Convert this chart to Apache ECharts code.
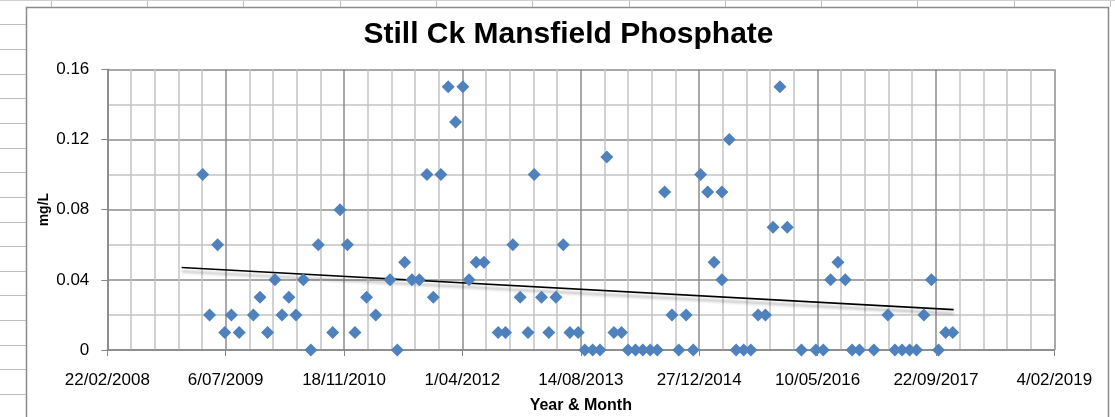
<!DOCTYPE html>
<html><head><meta charset="utf-8">
<script src="https://cdn.jsdelivr.net/npm/echarts@6/dist/echarts.min.js"></script>
<style>html,body{margin:0;padding:0;background:#fff}#c{width:1115px;height:417px}</style>
</head><body><div id="c"></div>
<script>
// ---- data ----
const sampleDates = [
 '2009-03-31','2009-04-29','2009-06-02','2009-07-02','2009-07-30','2009-09-01','2009-10-31','2009-11-28','2009-12-30',
 '2010-01-30','2010-03-01','2010-03-30','2010-04-29','2010-05-30','2010-07-01','2010-08-01','2010-10-01','2010-11-01','2010-12-02',
 '2011-01-03','2011-02-21','2011-04-01','2011-05-31','2011-07-01','2011-08-01','2011-09-01','2011-10-02','2011-11-03','2011-11-30',
 '2012-01-01','2012-02-01','2012-03-03','2012-04-03','2012-04-29','2012-05-29','2012-07-01','2012-08-30','2012-09-30','2012-10-31','2012-12-01',
 '2013-01-03','2013-01-29','2013-03-01','2013-04-01','2013-05-01','2013-06-01','2013-06-29','2013-08-03','2013-08-31','2013-10-03','2013-11-03','2013-12-02',
 '2014-01-01','2014-02-02','2014-03-02','2014-04-02','2014-05-03','2014-06-03','2014-07-03','2014-08-03','2014-09-03','2014-10-02','2014-11-02','2014-12-02',
 '2015-01-02','2015-02-01','2015-02-28','2015-04-02','2015-04-02','2015-05-03','2015-06-01','2015-07-03','2015-08-02','2015-09-02','2015-10-03','2015-11-04','2015-12-03',
 '2016-01-03','2016-03-03','2016-05-03','2016-06-03','2016-07-04','2016-08-04','2016-09-04','2016-10-03','2016-11-03',
 '2017-01-03','2017-03-03','2017-04-02','2017-05-02','2017-06-03','2017-07-02','2017-08-02','2017-09-03','2017-10-03','2017-11-02','2017-12-02'
];
const phosphate = [
 0.10,0.02,0.06,0.01,0.02,0.01,0.02,0.03,0.01,
 0.04,0.02,0.03,0.02,0.04,0,0.06,0.01,0.08,0.06,
 0.01,0.03,0.02,0.04,0,0.05,0.04,0.04,0.10,0.03,
 0.10,0.15,0.13,0.15,0.04,0.05,0.05,0.01,0.01,0.06,0.03,
 0.01,0.10,0.03,0.01,0.03,0.06,0.01,0.01,0,0,0,0.11,
 0.01,0.01,0,0,0,0,0,0.09,0.02,0,0.02,0,
 0.10,0.09,0.05,0.09,0.04,0.12,0,0,0,0.02,0.02,0.07,0.15,
 0.07,0,0,0,0.04,0.05,0.04,0,0,
 0,0.02,0,0,0,0,0.02,0.04,0,0.01,0.01
];
const trendDates = ['2009-01-01','2017-12-06'];
const trendValues = [0.047, 0.023];

const xMinDate = '2008-02-22';
const xMaxDate = '2019-02-04';
const xStepDays = 500;
const yMin = 0, yMax = 0.16, yStep = 0.04;

const titleText = 'Still Ck Mansfield Phosphate';
const yTitle = 'mg/L';
const xTitle = 'Year & Month';

// ---- helpers ----
function serial(s){const p=s.split('-').map(Number);return Math.round((Date.UTC(p[0],p[1]-1,p[2])-Date.UTC(1899,11,30))/86400000);}
function fmt(v){const d=new Date(Date.UTC(1899,11,30)+Math.round(v)*86400000);
  return d.getUTCDate()+'/'+String(d.getUTCMonth()+1).padStart(2,'0')+'/'+d.getUTCFullYear();}

const FONT = "'Liberation Sans', Arial, sans-serif";
const pts = sampleDates.map((d,i)=>[serial(d), phosphate[i]]);
const trend = trendDates.map((d,i)=>[serial(d), trendValues[i]]);

// spreadsheet decoration around chart
const deco = [];
for (let k=0;k<17;k++){const y=Math.round(24.3+24.65*k)+0.5;deco.push({type:'line',silent:true,shape:{x1:0,y1:y,x2:26,y2:y},style:{stroke:'#bdbdbd',lineWidth:1}});}
for (let k=0;k<12;k++){const x=Math.round(50.7+96.3*k)+0.5;deco.push({type:'line',silent:true,shape:{x1:x,y1:0,x2:x,y2:7},style:{stroke:'#bdbdbd',lineWidth:1}});}
deco.push({type:'line',silent:true,shape:{x1:0,y1:0.5,x2:1115,y2:0.5},style:{stroke:'#d0d0d0',lineWidth:1}});
deco.push({type:'rect',silent:true,shape:{x:26.5,y:7.5,width:1082,height:430},style:{fill:'#fff',stroke:'#8a8a8a',lineWidth:1.5},z:-10});
deco.push({type:'text',silent:true,x:568.5,y:35,style:{text:titleText,font:"bold 30px "+FONT,fill:'#000',textAlign:'center',textVerticalAlign:'middle'}});

const chart = echarts.init(document.getElementById('c'));
chart.setOption({
  animation:false,
  backgroundColor:'#fff',
  graphic: deco,
  grid:{left:107.3,right:60.7,top:69.3,bottom:67,containLabel:false,outerBoundsMode:'none'},
  xAxis:{
    type:'value', min:serial(xMinDate), max:serial(xMaxDate), interval:xStepDays,
    name:xTitle, nameLocation:'middle', nameGap:48,
    nameTextStyle:{fontFamily:FONT,fontWeight:'bold',fontSize:16,color:'#000'},
    axisLine:{show:true,lineStyle:{color:'#868686',width:1.5}},
    axisTick:{show:true,length:6,lineStyle:{color:'#868686'}},
    axisLabel:{formatter:fmt,fontFamily:FONT,fontSize:17,color:'#000',margin:22},
    splitLine:{show:true,lineStyle:{color:'#8c8c8c',width:1.5}},
    minorTick:{show:false,splitNumber:5},
    minorSplitLine:{show:true,lineStyle:{color:'#c4c4c4',width:1.5}}
  },
  yAxis:{
    type:'value', min:yMin, max:yMax, interval:yStep,
    name:yTitle, nameLocation:'middle', nameGap:56, nameRotate:90, nameMoveOverlap:false,
    nameTextStyle:{fontFamily:FONT,fontWeight:'bold',fontSize:14,color:'#000'},
    axisLine:{show:true,lineStyle:{color:'#868686',width:1.5}},
    axisTick:{show:true,length:6,lineStyle:{color:'#868686'}},
    axisLabel:{formatter:v=>v===0?'0':v.toFixed(2),fontFamily:FONT,fontSize:17,color:'#000',margin:18},
    splitLine:{show:true,lineStyle:{color:'#8c8c8c',width:1.5}},
    minorTick:{show:false,splitNumber:2},
    minorSplitLine:{show:true,lineStyle:{color:'#c4c4c4',width:1.5}}
  },
  series:[
    {type:'line',data:trend,symbol:'none',silent:true,z:3,
     lineStyle:{color:'#000',width:1.6,shadowColor:'rgba(0,0,0,0.35)',shadowBlur:3,shadowOffsetY:4}},
    {type:'scatter',data:pts,symbol:'diamond',symbolSize:13,z:4,
     itemStyle:{color:'#4F81BD',opacity:1}}
  ]
});
</script></body></html>
